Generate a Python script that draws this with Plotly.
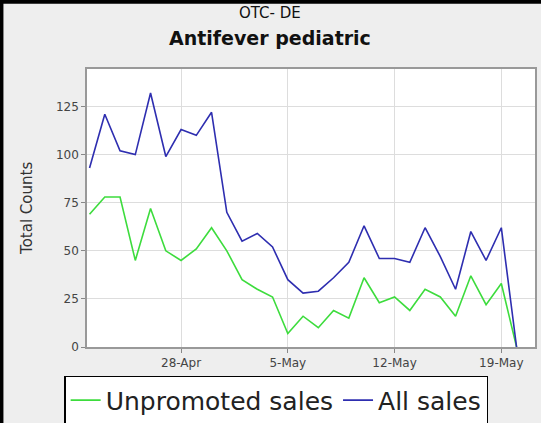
import pandas as pd
import plotly.graph_objects as go

# daily counts, 22-Apr .. 20-May
dates = pd.date_range("2007-04-22", "2007-05-20", freq="D")
unpromoted = [69, 78, 78, 45, 72, 50, 45, 51, 62, 50, 35, 30, 26, 7, 16, 10, 19, 15,
              36, 23, 26, 19, 30, 26, 16, 37, 22, 33, 0]
all_sales = [93, 121, 102, 100, 132, 99, 113, 110, 122, 70, 55, 59, 52, 35, 28, 29, 36,
             44, 63, 46, 46, 44, 62, 47, 30, 60, 45, 62, 0]

title_top = "OTC- DE"
title_main = "Antifever pediatric"
y_title = "Total Counts"

fig = go.Figure()
fig.add_trace(go.Scatter(x=dates, y=unpromoted, mode="lines", name="Unpromoted sales",
                         line=dict(color="#3ddc3d", width=1.6)))
fig.add_trace(go.Scatter(x=dates, y=all_sales, mode="lines", name="All sales",
                         line=dict(color="#2e2eb0", width=1.6)))

fig.update_layout(
    width=541, height=423,
    margin=dict(l=87, r=6, t=69, b=76, autoexpand=False),
    paper_bgcolor="#eeeeee",
    plot_bgcolor="white",
    font=dict(family="DejaVu Sans", size=12, color="#444444"),
    showlegend=True,
    legend=dict(orientation="h", x=-0.051, y=-0.104, xanchor="left", yanchor="top",
                bgcolor="white", bordercolor="black", borderwidth=1.5,
                font=dict(size=25, color="#222222"), itemwidth=30, tracegroupgap=0),
    annotations=[
        dict(text=title_top, xref="paper", yref="paper", x=0.409, y=1.20, yanchor="middle",
             showarrow=False, font=dict(size=15, color="#111111")),
        dict(text="<b>" + title_main + "</b>", xref="paper", yref="paper", x=0.409, y=1.11,
             yanchor="middle", showarrow=False, font=dict(size=19, color="#111111")),
        dict(text=y_title, xref="paper", yref="paper", x=-0.134, y=0.5, textangle=-90,
             xanchor="center", yanchor="middle", showarrow=False,
             font=dict(size=15, color="#333333")),
    ],
    shapes=[
        dict(type="line", xref="paper", yref="paper", x0=-0.2, x1=1.02, y0=1.242, y1=1.242,
             line=dict(color="black", width=4)),
        dict(type="line", xref="paper", yref="paper", x0=-0.191, x1=-0.191, y0=-0.3, y1=1.25,
             line=dict(color="black", width=4)),
    ],
)

fig.update_xaxes(
    range=["2007-04-21 20:00", "2007-05-21 05:00"],
    tickvals=pd.to_datetime(["2007-04-28", "2007-05-05", "2007-05-12", "2007-05-19"]),
    tickformat="%-d-%b",
    ticks="outside", ticklen=4, tickcolor="#888888",
    showgrid=True, gridcolor="#dddddd", gridwidth=1,
    showline=True, linecolor="#999999", linewidth=1.5, mirror=True,
    zeroline=False,
)
fig.update_yaxes(
    range=[0, 144.5],
    tickvals=[0, 25, 50, 75, 100, 125],
    ticks="outside", ticklen=4, tickcolor="#888888",
    showgrid=True, gridcolor="#dddddd", gridwidth=1,
    showline=True, linecolor="#999999", linewidth=1.5, mirror=True,
    zeroline=False,
)

page_fix = ("document.documentElement.style.overflow='hidden';"
            "document.body.style.margin='0';document.body.style.overflow='hidden';"
            "window.scrollTo(0,0);")
fig.write_html("out.html", config={"displayModeBar": False}, post_script=page_fix)
